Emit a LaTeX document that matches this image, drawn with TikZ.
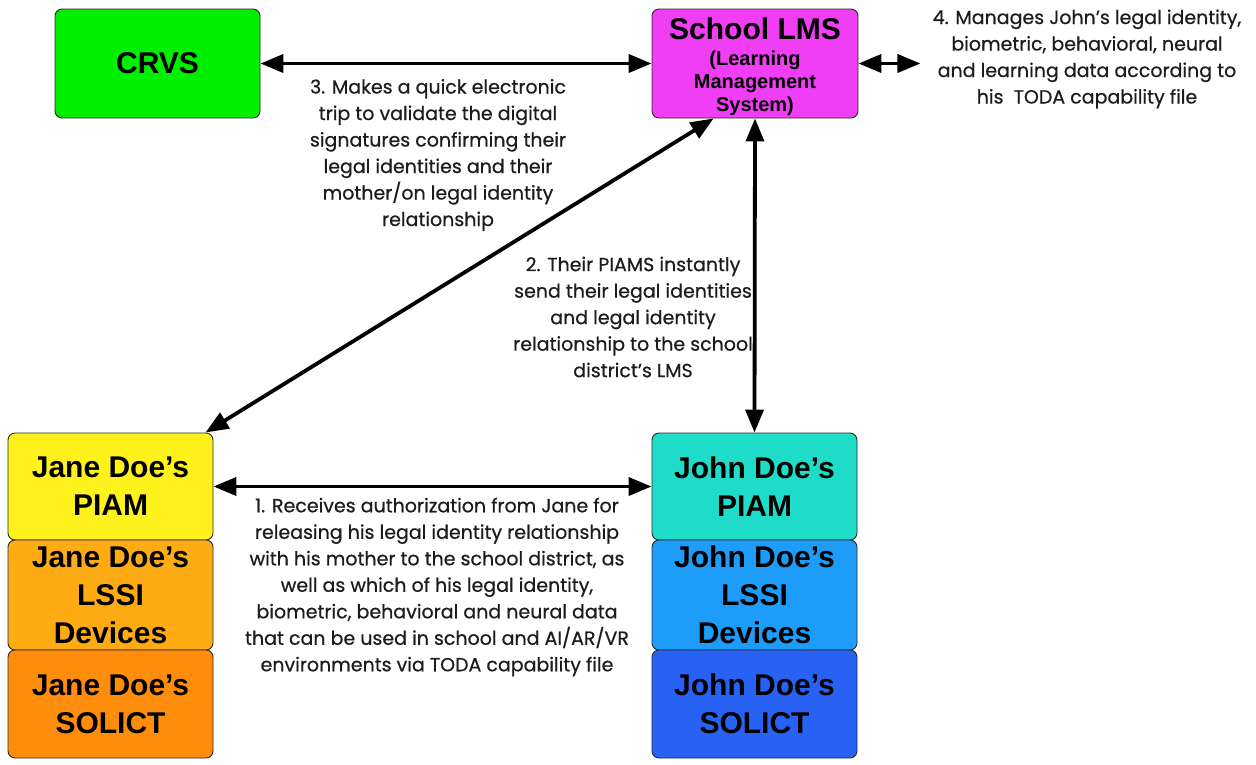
\documentclass[tikz,border=0pt]{standalone}
\usepackage{fontspec}
\setmainfont{Liberation Sans}
\newfontfamily\notefont[FakeBold=0.6]{Poppins}
\usetikzlibrary{arrows.meta,calc}

\definecolor{crvsgreen}{HTML}{00EE00}
\definecolor{lmspink}{HTML}{F03EF5}
\definecolor{janeyellow}{HTML}{FFF21C}
\definecolor{janeorange}{HTML}{FFAC14}
\definecolor{janedark}{HTML}{FF8C0A}
\definecolor{johnteal}{HTML}{1EDCC8}
\definecolor{johnblue}{HTML}{1E9CFA}
\definecolor{johndark}{HTML}{2862F5}
\definecolor{edge}{HTML}{2A2A2A}
\definecolor{notegray}{HTML}{1C1C1C}

\tikzset{
  card/.style={draw=edge, line width=0.9pt, rounded corners=7pt,
    minimum width=205pt, inner sep=0pt, align=center,
    font=\bfseries\fontsize{30}{38}\selectfont},
  link/.style={line width=3.8pt, {Triangle[length=23pt,width=18pt]}-{Triangle[length=23pt,width=18pt]}},
  note/.style={align=center, text=notegray, inner sep=0pt,
    font=\notefont\fontsize{19}{26.5}\selectfont}
}

\begin{document}
\begin{tikzpicture}[x=1pt,y=-1pt]
\useasboundingbox (0,0) rectangle (1256,764);

% top row
\node[card, fill=crvsgreen, minimum height=109pt] (crvs) at (157.5,63.5) {CRVS};
\node[card, fill=lmspink, minimum width=206pt, minimum height=109pt] (lms) at (755,63.5) {};
\node[align=center, inner sep=0pt, font=\bfseries\fontsize{20}{23}\selectfont] (lmstext) at (755,66.5)
  {{\fontsize{30}{30}\selectfont School LMS}\\[3pt](Learning\\Management\\System)};

% Jane's stack
\node[card, fill=janeyellow, minimum height=107pt] (janeA) at (110.5,486.5) {Jane Doe's\\PIAM};
\node[card, fill=janeorange, minimum height=110pt] (janeB) at (110.5,595) {Jane Doe's\\LSSI\\Devices};
\node[card, fill=janedark, minimum height=108pt] (janeC) at (110.5,704) {Jane Doe's\\SOLICT};

% John's stack
\node[card, fill=johnteal, minimum height=107pt] (johnA) at (754.5,486.5) {John Doe's\\PIAM};
\node[card, fill=johnblue, minimum height=110pt] (johnB) at (754.5,595) {John Doe's\\LSSI\\Devices};
\node[card, fill=johndark, minimum height=108pt] (johnC) at (754.5,704) {John Doe's\\SOLICT};

% connectors
\coordinate (lmsout) at ($(lms.east)+(62,0)$);
\draw[link] (crvs.east) -- (lms.west);
\draw[link] (lms.east) -- (lmsout);
\draw[link] ($(lms.south west)!0.3!(lms.south east)$) -- ([xshift=-8pt]janeA.north east);
\draw[link] (lms.south) -- (johnA.north);
\draw[link] (janeA.east) -- (johnA.west);

% step notes
\node[note] (n4) at (1087,59) {4. Manages John’s legal identity,\\biometric, behavioral, neural\\and learning data according to\\his\ \ TODA capability file};
\node[note] (n3) at (438,155) {3. Makes a quick electronic\\trip to validate the digital\\signatures confirming their\\legal identities and their\\mother/on legal identity\\relationship};
\node[note] (n2) at (633,317) {2. Their PIAMS instantly\\send their legal identities\\and legal identity\\relationship to the school\\district’s LMS};
\node[note] (n1) at (437,587) {1. Receives authorization from Jane for\\releasing his legal identity relationship\\with his mother to the school district, as\\well as which of his legal identity,\\biometric, behavioral and neural data\\that can be used in school and AI/AR/VR\\environments via TODA capability file};
\end{tikzpicture}
\end{document}
